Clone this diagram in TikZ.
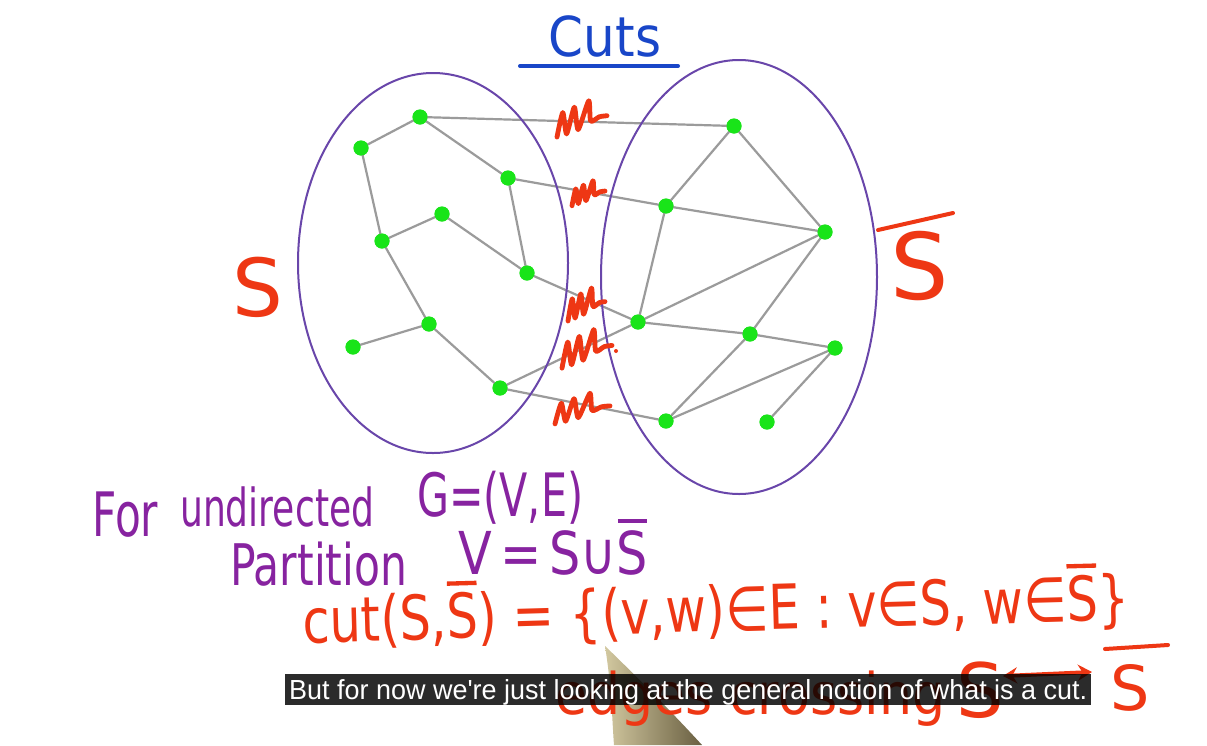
\documentclass[tikz,border=0pt]{standalone}
\usepackage{fontspec}
\setmainfont{DejaVu Sans}
\newfontfamily\subfont{Liberation Sans}
\usepackage{graphicx}
\usetikzlibrary{arrows.meta}
\definecolor{ellc}{RGB}{105,70,170}
\definecolor{purt}{RGB}{135,35,160}
\definecolor{redt}{RGB}{238,55,20}
\definecolor{bluet}{RGB}{25,70,200}
\definecolor{edgec}{RGB}{155,155,155}
\definecolor{dotc}{RGB}{25,228,25}
\definecolor{penl}{RGB}{210,200,160}
\definecolor{pend}{RGB}{105,95,65}
\newcommand\Sbar{\leavevmode\rlap{\kern0.02em\raisebox{0.86em}{\rule{0.6em}{0.07em}}}S}
\newcommand\hw[3]{\scalebox{1}[#2]{\resizebox{#1}{!}{#3}}}
\newcommand\squig[4]{%
  \begin{scope}[shift={(#1,#2)},xscale=#3/52,yscale=#4/30]
    \draw[squigline] plot[smooth,tension=.4] coordinates {(0,31) (6,8) (10,28) (18,3) (22,24) (33,-3) (35,16) (44,12) (52,11)};
  \end{scope}}
\begin{document}
\begin{tikzpicture}[x=1pt,y=-1pt,
  dot/.style={circle,fill=dotc,draw=none,minimum size=15pt,inner sep=0pt},
  edge/.style={draw=edgec,line width=2.2pt},
  ell/.style={draw=ellc,line width=2pt},
  squigline/.style={draw=redt,line width=4.8pt,line cap=round,line join=round},
  hand/.style={inner sep=0pt,anchor=base west,font=\fontsize{40}{48}\selectfont},
  big/.style={inner sep=0pt,text=redt},
  inkbar/.style={line width=4pt,line cap=round}]
\useasboundingbox (0,0) rectangle (1207,745);
\fill[white] (0,0) rectangle (1207,745);

% title
\node[inner sep=0pt,anchor=base,text=bluet,font=\fontsize{50}{60}\selectfont] (title) at (605,56) {\scalebox{1}[1.1]{Cuts}};
\coordinate (ul1) at (520,66);
\coordinate (ul2) at (678,66);
\draw[bluet,line width=4pt,line cap=round] (ul1) -- (ul2);

% graph nodes
\node[dot] (A) at (420,117) {};
\node[dot] (B) at (361,148) {};
\node[dot] (C) at (508,178) {};
\node[dot] (D) at (442,214) {};
\node[dot] (E) at (382,241) {};
\node[dot] (F) at (527,273) {};
\node[dot] (G) at (429,324) {};
\node[dot] (H) at (353,347) {};
\node[dot] (I) at (500,388) {};
\node[dot] (J) at (734,126) {};
\node[dot] (K) at (666,206) {};
\node[dot] (L) at (825,232) {};
\node[dot] (M) at (638,322) {};
\node[dot] (N) at (750,334) {};
\node[dot] (O) at (835,348) {};
\node[dot] (P) at (666,421) {};
\node[dot] (Q) at (767,422) {};

% edges
\foreach \u/\v in {A/B,A/C,A/J,B/E,E/D,D/F,C/F,C/K,E/G,G/H,G/I,F/M,I/M,I/P,J/K,J/L,K/L,K/M,M/L,M/N,N/L,N/O,N/P,P/O,O/Q}
  \draw[edge] (\u.center) -- (\v.center);

% partition ellipses
\draw[ell] (433,263) ellipse [x radius=135,y radius=190];
\draw[ell] (739,277) ellipse [x radius=138,y radius=217];

% dots on top
\foreach \n in {A,B,C,D,E,F,G,H,I,J,K,L,M,N,O,P,Q}
  \fill[dotc] (\n.center) circle (7.5pt);

% cut marks
\squig{557}{104}{50}{32}
\squig{572}{183}{33}{22}
\squig{568}{291}{37}{29}
\squig{562}{333}{50}{34}
\fill[redt] (616,351) circle (2pt);
\squig{555}{396}{55}{27}

% set labels
\node[big,font=\fontsize{80}{90}\selectfont] (Sl) at (258,287) {S};
\node[big,font=\fontsize{92}{100}\selectfont] (Sr) at (920,266) {S};
\coordinate (br1) at (878,230);
\coordinate (br2) at (953,213);
\draw[redt,inkbar] (br1) -- (br2);

% pen
\shade[left color=penl,right color=pend] (605,646) .. controls (612,690) and (612,720) .. (614,745) -- (702,745) .. controls (670,710) and (630,670) .. (605,646) -- cycle;

% purple text
\node[hand,text=purt] (t1) at (92,536) {\hw{66pt}{1.45}{For}};
\node[hand,text=purt] (t2) at (180,526) {\hw{194pt}{1.45}{undirected}};
\node[hand,text=purt] (t3) at (417,516) {\hw{166pt}{1.45}{G=(V,E)}};
\node[hand,text=purt] (t4) at (230,585) {\hw{177pt}{1.35}{Partition}};
\node[hand,text=purt] (t5) at (458,574) {\hw{190pt}{1.2}{V\,=\,S∪\Sbar}};

% red text
\node[hand,text=redt,rotate=1.6] (t6) at (303,643) {\hw{827pt}{1.25}{cut(S,\Sbar) = \{(v,w)∈E : v∈S, w∈\Sbar\}}};
\node[hand,text=redt] (t7) at (555,714) {\hw{390pt}{1.1}{edges crossing}};
\node[big,font=\fontsize{75}{85}\selectfont] (S4) at (980,690) {S};
\node[big,font=\fontsize{62}{70}\selectfont] (S5) at (1130,688) {S};
\coordinate (a1) at (1003,676);
\coordinate (a2) at (1092,672);
\draw[redt,line width=4pt,line cap=round,{Stealth[length=14pt,width=16pt]}-{Stealth[length=14pt,width=16pt]}] (a1) -- (a2);
\coordinate (bb1) at (1105,649);
\coordinate (bb2) at (1168,645);
\draw[redt,inkbar] (bb1) -- (bb2);

% subtitle
\fill[black,fill opacity=.83] (285,674) rectangle (1091,705);
\node[inner sep=0pt,anchor=base west,text=white] (sub) at (289,699) {\subfont\resizebox{798pt}{20pt}{But for now we're just looking at the general notion of what is a cut.}};
\end{tikzpicture}
\end{document}
